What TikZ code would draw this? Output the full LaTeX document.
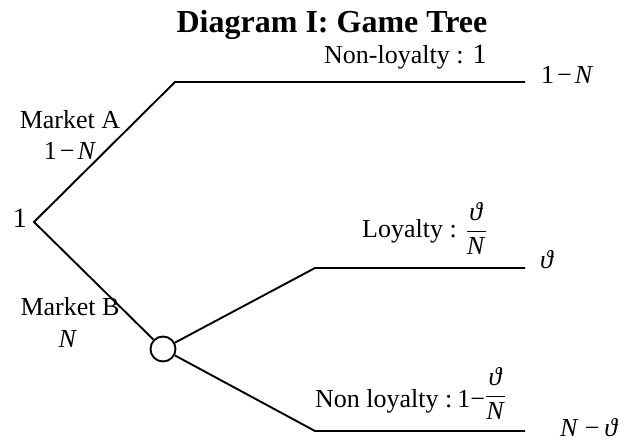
\documentclass[tikz,border=0pt]{standalone}
\usepackage{fontspec}
\setmainfont{Liberation Serif}
% italic symbols set in the text face
\newcommand\vt{\textit{ϑ}}
\newcommand\NN{\textit{N}}
\newcommand\fr[2]{$\displaystyle\frac{\hbox{#1}}{\hbox{#2}}$}
\begin{document}
\begin{tikzpicture}[x=1pt,y=-1pt,
  every node/.style={inner sep=0pt,font=\fontsize{26}{30}\selectfont},
  branch/.style={line width=1.9pt,line join=miter},
  chancenode/.style={circle,draw,line width=1.9pt,minimum size=25pt}]
\useasboundingbox (0,0) rectangle (624,441);

% title
\node[anchor=base,font=\fontsize{32}{36}\selectfont\bfseries] (title) at (332,33) {Diagram I: Game Tree};

% tree skeleton
\coordinate (root) at (34,222);
\coordinate (a1) at (175,82);
\coordinate (a2) at (525,82);
\node[chancenode] (chance) at (163,349) {};
\coordinate (b1) at (315,268);
\coordinate (b2) at (525,268);
\coordinate (c1) at (315,431);
\coordinate (c2) at (525,431);

\draw[branch] (a2) -- (a1) -- (root) -- (chance);
\draw[branch] (chance) -- (b1) -- (b2);
\draw[branch] (chance) -- (c1) -- (c2);

% root and market labels
\node[anchor=base east,font=\fontsize{28}{30}\selectfont] (rootlbl) at (27,227) {1};
\node[anchor=base] (mA) at (70,129) {Market A};
\node[anchor=base] (pA) at (70,160) {1\hspace{3pt}−\hspace{3pt}\NN};
\node[anchor=base] (mB) at (70,315) {Market B};
\node[anchor=base] (pB) at (68,347) {\NN};

% branch labels and payoffs
\node[anchor=base west] (nl) at (324,64) {Non-loyalty :\hspace{9pt}{\fontsize{28}{30}\selectfont 1}};
\node[anchor=base west] (pay1) at (541,84) {1\hspace{3pt}−\hspace{3pt}\NN};
\node[anchor=base west] (lo) at (362,237) {Loyalty :\hspace{9pt}\fr{\vt}{\NN}};
\node[anchor=base west] (pay2) at (540,268) {\vt};
\node[anchor=base west] (nlo) at (315,407) {Non loyalty :\hspace{5pt}1−\raisebox{5pt}{\fr{\vt}{\NN}}};
\node[anchor=base west] (pay3) at (560,436) {\NN\hspace{6pt}−\hspace{5pt}\vt};
\end{tikzpicture}
\end{document}
